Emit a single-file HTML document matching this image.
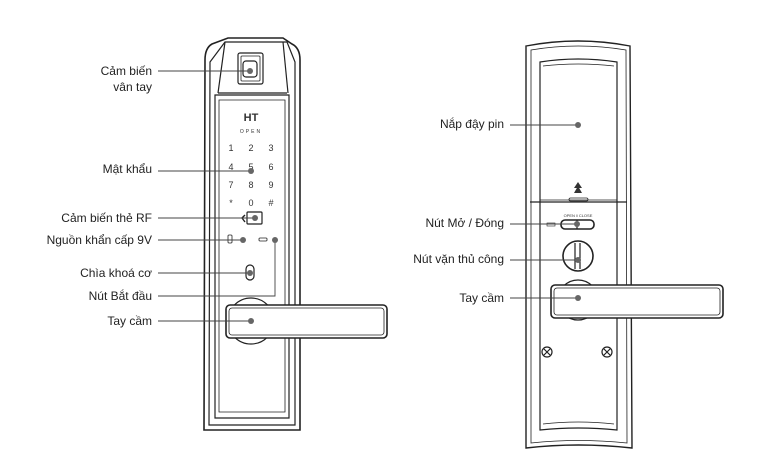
<!DOCTYPE html>
<html><head><meta charset="utf-8"><style>
html,body{margin:0;padding:0;background:#fff;}
svg{display:block;}
text{font-family:"Liberation Sans",sans-serif;fill:#222;}
.l{font-size:12px;text-anchor:end;}
.k{font-size:9px;text-anchor:middle;fill:#333;}
</style></head><body>
<svg width="780" height="466" viewBox="0 0 780 466" xmlns="http://www.w3.org/2000/svg">
<g fill="none" stroke="#222" stroke-width="1.2">
<!-- LEFT LOCK -->
<path d="M205 60 Q205 48 212 44 L228 38 L283 38 L292 44 Q300 48 300 60 L300 430 L204 430 Z" stroke-width="1.6"/>
<path d="M210 62 L225 42 L287 42 L295 62 L295 425 L209 425 Z"/>
<path d="M215 95 L289 95 L289 418 L215 418 Z"/>
<path d="M219 100 L285 100 L285 412 L219 412 Z" stroke-width="0.8"/>
<line x1="218" y1="93" x2="287" y2="93"/>
<line x1="225" y1="42" x2="218" y2="93"/>
<line x1="283" y1="42" x2="288" y2="93"/>
<rect x="238" y="53" width="25" height="31" rx="2"/>
<rect x="241" y="56" width="19" height="25" rx="1" stroke-width="0.8"/>
<rect x="243" y="61" width="14" height="16" rx="3"/>
<path d="M245 215 L242 218 L245 222" stroke-width="1.4"/>
<rect x="247" y="212" width="15" height="12" rx="1"/>
<rect x="228" y="235" width="4" height="8" rx="1" stroke-width="0.8"/>
<rect x="259" y="238" width="8" height="3" rx="1" stroke-width="0.8"/>
<rect x="246" y="265" width="8" height="15" rx="4"/>
<circle cx="251" cy="321" r="23"/>
<rect x="226" y="305" width="161" height="33" rx="4" fill="#fff" stroke-width="1.6"/>
<rect x="229" y="308" width="155" height="27" rx="3" stroke-width="0.8"/>
<!-- RIGHT LOCK -->
<path d="M526 46 Q578 36 630 46 L632 448 Q578 442 526 448 Z" stroke-width="1.4"/>
<path d="M531 50 Q578 42 626 50 L627 443 Q578 438 531 443 Z" stroke-width="0.8"/>
<path d="M540 62 Q578 56 617 62 L617 430 Q578 426 540 430 Z"/>
<path d="M543 66 Q578 62 614 66" stroke-width="0.8"/>
<path d="M543 424 Q578 420 614 424" stroke-width="0.8"/>
<line x1="530" y1="202" x2="627" y2="202"/>
<line x1="540" y1="200" x2="617" y2="200" stroke-width="0.8"/>
<rect x="569" y="198" width="19" height="3" rx="1.5" stroke-width="0.8"/>
<rect x="561" y="220" width="33" height="9" rx="4" stroke-width="1.6"/>
<line x1="577" y1="220" x2="577" y2="229"/>
<rect x="547" y="223" width="8" height="3" stroke-width="0.6"/>
<circle cx="578" cy="256" r="15" stroke-width="1.6"/>
<line x1="575" y1="243" x2="575" y2="269"/>
<line x1="580" y1="243" x2="580" y2="269"/>
<circle cx="578" cy="300" r="20"/>
<rect x="551" y="285" width="172" height="33" rx="4" fill="#fff" stroke-width="1.6"/>
<rect x="554" y="288" width="166" height="27" rx="3" stroke-width="0.8"/>
<circle cx="547" cy="352" r="5"/>
<circle cx="607" cy="352" r="5"/>
<path d="M544 349 L550 355 M550 349 L544 355 M604 349 L610 355 M610 349 L604 355"/>
</g>
<path d="M578 182 L574 188 L582 188 Z M578 186 L574 193 L582 193 Z" fill="#333"/>
<!-- keypad text -->
<text x="251" y="121" class="k" style="font-size:11px;font-weight:bold">HT</text>
<text x="251" y="133" class="k" style="font-size:5px;letter-spacing:2px">OPEN</text>
<text x="231" y="151" class="k">1</text><text x="251" y="151" class="k">2</text><text x="271" y="151" class="k">3</text>
<text x="231" y="170" class="k">4</text><text x="251" y="170" class="k">5</text><text x="271" y="170" class="k">6</text>
<text x="231" y="188" class="k">7</text><text x="251" y="188" class="k">8</text><text x="271" y="188" class="k">9</text>
<text x="231" y="206" class="k">*</text><text x="251" y="206" class="k">0</text><text x="271" y="206" class="k">#</text>
<text x="578" y="217" class="k" style="font-size:4px">OPEN ‖ CLOSE</text>
<!-- leader lines -->
<g stroke="#444" stroke-width="0.9">
<line x1="158" y1="71" x2="250" y2="71"/>
<line x1="158" y1="171" x2="251" y2="171"/>
<line x1="158" y1="218" x2="255" y2="218"/>
<line x1="158" y1="240" x2="243" y2="240"/>
<line x1="158" y1="273" x2="250" y2="273"/>
<polyline points="158,296 275,296 275,240" fill="none"/>
<line x1="158" y1="321" x2="251" y2="321"/>
<line x1="510" y1="125" x2="578" y2="125"/>
<line x1="510" y1="224" x2="577" y2="224"/>
<line x1="510" y1="260" x2="578" y2="260"/>
<line x1="510" y1="298" x2="578" y2="298"/>
</g>
<g fill="#666">
<circle cx="250" cy="71" r="3"/><circle cx="251" cy="171" r="3"/><circle cx="255" cy="218" r="3"/>
<circle cx="243" cy="240" r="3"/><circle cx="275" cy="240" r="3"/><circle cx="250" cy="273" r="3"/>
<circle cx="251" cy="321" r="3"/>
<circle cx="578" cy="125" r="3"/><circle cx="577" cy="224" r="3"/><circle cx="578" cy="260" r="3"/><circle cx="578" cy="298" r="3"/>
</g>
<text x="152" y="75" class="l">Cảm biến</text>
<text x="152" y="91" class="l">vân tay</text>
<text x="152" y="173" class="l">Mật khẩu</text>
<text x="152" y="222" class="l">Cảm biến thẻ RF</text>
<text x="152" y="244" class="l">Nguồn khẩn cấp 9V</text>
<text x="152" y="277" class="l">Chìa khoá cơ</text>
<text x="152" y="300" class="l">Nút Bắt đầu</text>
<text x="152" y="325" class="l">Tay cầm</text>
<text x="504" y="128" class="l">Nắp đậy pin</text>
<text x="504" y="227" class="l">Nút Mở / Đóng</text>
<text x="504" y="263" class="l">Nút vặn thủ công</text>
<text x="504" y="302" class="l">Tay cầm</text>
</svg>
</body></html>
